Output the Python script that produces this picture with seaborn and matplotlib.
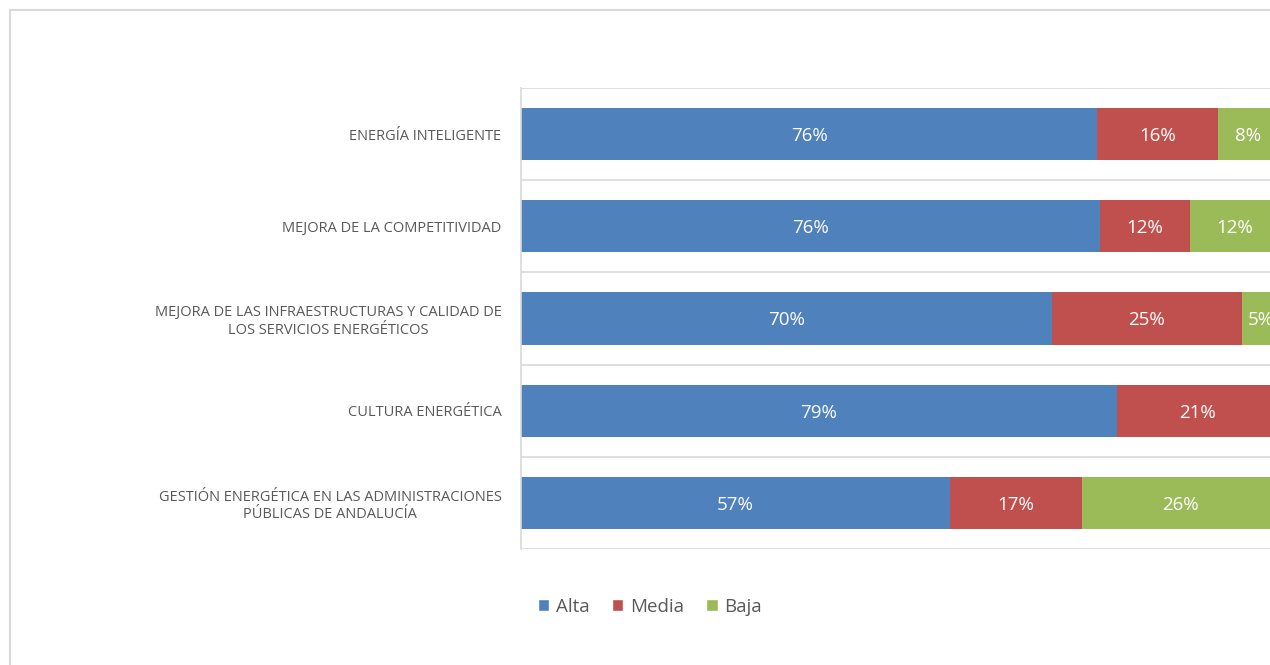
import pandas as pd
import matplotlib
matplotlib.use("Agg")
import matplotlib.pyplot as plt
from matplotlib.patches import Patch, Rectangle
import seaborn as sns

# ---------------------------------------------------------------
# Data (percent of responses per line of action)
# ---------------------------------------------------------------
categories = [
    "ENERGÍA INTELIGENTE",
    "MEJORA DE LA COMPETITIVIDAD",
    "MEJORA DE LAS INFRAESTRUCTURAS Y CALIDAD DE\nLOS SERVICIOS ENERGÉTICOS",
    "CULTURA ENERGÉTICA",
    "GESTIÓN ENERGÉTICA EN LAS ADMINISTRACIONES\nPÚBLICAS DE ANDALUCÍA",
]
alta = [76.0, 76.4, 70.0, 78.6, 56.6]
media = [15.9, 11.8, 25.1, 21.4, 17.4]
baja = [8.1, 11.8, 4.9, 0.0, 26.0]
series_names = ["Alta", "Media", "Baja"]
colors = ["#4f81bd", "#c0504d", "#9bbb59"]

sns.set_style("white")
plt.rcParams["font.family"] = ["Open Sans", "DejaVu Sans"]

df = pd.DataFrame({"cat": categories, "Alta": alta, "Media": media, "Baja": baja})
df["c_alta"] = df["Alta"]
df["c_media"] = df["Alta"] + df["Media"]
df["c_baja"] = df["c_media"] + df["Baja"]

fig = plt.figure(figsize=(12.7, 6.65), dpi=100)
ax = fig.add_axes([521 / 1270, 1 - 549 / 665, 758 / 1270, 461 / 665])

# stacked bars drawn back to front from cumulative totals
for col, color in zip(["c_baja", "c_media", "c_alta"], colors[::-1]):
    sns.barplot(data=df, x=col, y="cat", color=color, width=0.565,
                saturation=1, ax=ax, linewidth=0)

for i, row in df.iterrows():
    start = 0
    for name in series_names:
        v = row[name]
        if v > 0:
            ax.text(start + v / 2, i, f"{v:.0f}%", ha="center", va="center_baseline",
                    color="white", fontsize=13.5)
        start += v

for b in range(len(categories) + 1):
    ax.axhline(b - 0.5, color="#d9d9d9", lw=1.2, zorder=0)

ax.set_xlim(0, 100)
ax.set_ylim(len(categories) - 0.5, -0.5)
ax.set_xlabel("")
ax.set_ylabel("")
ax.set_xticks([])
for s in ["top", "right", "bottom"]:
    ax.spines[s].set_visible(False)
ax.spines["left"].set_color("#d9d9d9")
ax.spines["left"].set_linewidth(1.2)
ax.tick_params(axis="y", length=0, pad=14)
for lbl in ax.get_yticklabels():
    lbl.set_fontsize(10.5)
    lbl.set_color("#595959")
    lbl.set_multialignment("center")

handles = [Patch(facecolor=c, label=n) for c, n in zip(colors, series_names)]
fig.legend(handles=handles, loc="center", bbox_to_anchor=(650 / 1270, 1 - 607 / 665),
           ncol=3, frameon=False, fontsize=13.5, labelcolor="#595959",
           handlelength=0.6, handleheight=0.6, handletextpad=0.35, columnspacing=1.2)

fig.patches.append(Rectangle((10 / 1270, -0.1), 1.2, 1.1 - 10 / 665,
                             transform=fig.transFigure, fill=False,
                             edgecolor="#d9d9d9", lw=1.5))

fig.savefig("out.png", dpi=100)
